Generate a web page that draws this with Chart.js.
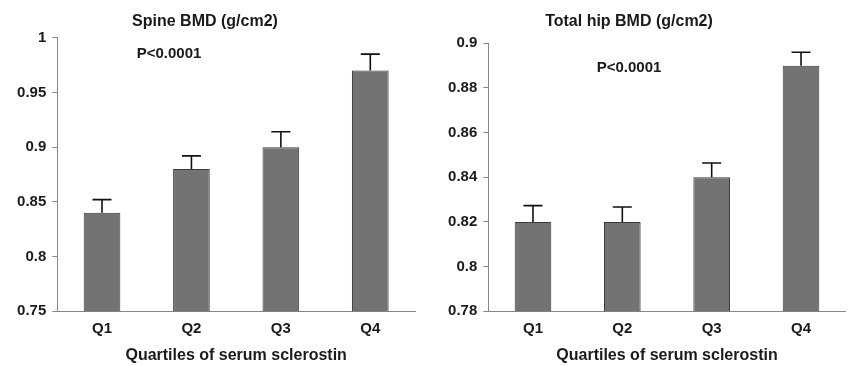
<!DOCTYPE html>
<html>
<head>
<meta charset="utf-8">
<script src="https://cdn.jsdelivr.net/npm/chart.js@4/dist/chart.umd.min.js"></script>
<style>
  body { margin: 0; background: #fff; }
  .panel { position: absolute; top: 0; width: 424px; height: 366px; }
</style>
</head>
<body>
<div class="panel" style="left:0"><canvas id="spine"></canvas></div>
<div class="panel" style="left:424px"><canvas id="hip"></canvas></div>
<script>
// Daten
const quartiles = ['Q1', 'Q2', 'Q3', 'Q4'];
const spineBMD = [0.84, 0.88, 0.90, 0.97];
const spineSE = [0.012, 0.012, 0.014, 0.015];
const hipBMD = [0.82, 0.82, 0.84, 0.89];
const hipSE = [0.0073, 0.0067, 0.0064, 0.006];
const spineTickLabels = ['0.75', '0.8', '0.85', '0.9', '0.95', '1'];
const hipTickLabels = ['0.78', '0.8', '0.82', '0.84', '0.86', '0.88', '0.9'];

const FONT = '"Liberation Sans", Arial, Helvetica, sans-serif';
const INK = '#1a1a1a';

// Fehlerbalken (nur nach oben) + Texte
const extras = {
  id: 'extras',
  afterDatasetsDraw(chart, args, opts) {
    const ctx = chart.ctx;
    const meta = chart.getDatasetMeta(0);
    const yScale = chart.scales.y;
    ctx.save();
    ctx.strokeStyle = '#111';
    ctx.lineWidth = 1.6;
    meta.data.forEach((bar, i) => {
      const v = chart.data.datasets[0].data[i];
      const top = yScale.getPixelForValue(v + opts.se[i]);
      ctx.beginPath();
      ctx.moveTo(bar.x, bar.y);
      ctx.lineTo(bar.x, top);
      ctx.moveTo(bar.x - 9.5, top);
      ctx.lineTo(bar.x + 9.5, top);
      ctx.stroke();
    });
    ctx.fillStyle = INK;
    ctx.textAlign = 'center';
    ctx.textBaseline = 'middle';
    ctx.font = 'bold 16px ' + FONT;
    ctx.fillText(opts.title, opts.titleX, 22);
    ctx.font = 'bold 15px ' + FONT;
    ctx.fillText('P<0.0001', opts.pX, opts.pY);
    ctx.restore();
  }
};

function makeChart(id, values, se, min, max, step, tickLabels, yWidth, padRight, title, pY) {
  return new Chart(document.getElementById(id), {
    type: 'bar',
    data: {
      labels: quartiles,
      datasets: [{
        data: values,
        backgroundColor: '#737373',
        borderColor: '#3a3a3a',
        borderWidth: 1,
        categoryPercentage: 1,
        barPercentage: 0.41
      }]
    },
    options: {
      responsive: true,
      maintainAspectRatio: false,
      animation: false,
      layout: { padding: { top: pY.top, right: padRight, bottom: 0, left: 0 } },
      plugins: {
        legend: { display: false },
        tooltip: { enabled: false },
        extras: { se: se, title: title, titleX: 205, pX: pY.px, pY: pY.py }
      },
      scales: {
        x: {
          grid: { display: false },
          border: { display: true, color: '#888', width: 1 },
          ticks: { color: INK, font: { family: FONT, size: 15, weight: 'bold' }, padding: 1 },
          title: {
            display: true,
            text: 'Quartiles of serum sclerostin',
            color: INK,
            font: { family: FONT, size: 16, weight: 'bold' },
            padding: { top: 4, bottom: 1 }
          },
          afterFit(scale) { scale.height = 54.7; }
        },
        y: {
          min: min,
          max: max,
          ticks: {
            stepSize: step,
            color: INK,
            font: { family: FONT, size: 15, weight: 'bold' },
            padding: 6,
            callback: (v, i) => tickLabels[i]
          },
          grid: { drawOnChartArea: false, tickLength: 5, color: '#888' },
          border: { display: true, color: '#888', width: 1 },
          afterFit(scale) { scale.width = yWidth; }
        }
      }
    },
    plugins: [extras]
  });
}

makeChart('spine', spineBMD, spineSE, 0.75, 1, 0.05, spineTickLabels, 57.3, 9,
  'Spine BMD (g/cm2)', { top: 37.7, px: 169, py: 54 });
makeChart('hip', hipBMD, hipSE, 0.78, 0.9, 0.02, hipTickLabels, 64.3, 2.3,
  'Total hip BMD (g/cm2)', { top: 43.3, px: 205, py: 68 });
</script>
</body>
</html>
